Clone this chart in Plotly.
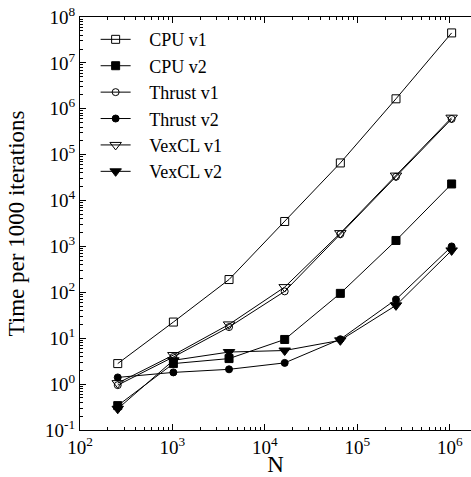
import plotly.graph_objects as go

# Problem sizes and timings (time per 1000 iterations)
n_values = [256, 1024, 4096, 16384, 65536, 262144, 1048576]
cpu_v1 = [2.8, 22.5, 190, 3500, 66000, 1.65e6, 4.5e7]
cpu_v2 = [0.34, 2.8, 3.6, 9.4, 95, 1350, 2.3e4]
thrust_v1 = [0.95, 3.9, 17.5, 105, 1850, 3.3e4, 6.0e5]
thrust_v2 = [1.4, 1.8, 2.1, 2.9, 9.5, 70, 1000]
vexcl_v1 = [1.05, 4.3, 20, 130, 1950, 3.5e4, 6.4e5]
vexcl_v2 = [0.29, 3.3, 5.0, 5.4, 9.0, 52, 820]

x_ticks = [1e2, 1e3, 1e4, 1e5, 1e6]
x_tick_text = ["10<sup>2</sup>", "10<sup>3</sup>", "10<sup>4</sup>", "10<sup>5</sup>", "10<sup>6</sup>"]
y_ticks = [10.0 ** k for k in range(-1, 9)]
y_tick_text = ["10<sup>%d</sup>" % k for k in range(-1, 9)]

# minor ticks at 2..9 of every decade
x_minor = [m * 10.0 ** k for k in range(2, 7) for m in range(2, 10)]
y_minor = [m * 10.0 ** k for k in range(-1, 8) for m in range(2, 10)]

series = [
    ("CPU v1", cpu_v1, "square-open", 8),
    ("CPU v2", cpu_v2, "square", 8),
    ("Thrust v1", thrust_v1, "circle-open", 7),
    ("Thrust v2", thrust_v2, "circle", 7),
    ("VexCL v1", vexcl_v1, "triangle-down-open", 10),
    ("VexCL v2", vexcl_v2, "triangle-down", 10),
]

fig = go.Figure()
for name, values, symbol, size in series:
    fig.add_trace(go.Scatter(
        x=n_values, y=values,
        name="\u00a0\u00a0\u00a0" + name,  # a little extra gap after the legend symbol
        legendgroup=name, mode="lines+markers",
        line=dict(color="black", width=1),
        marker=dict(symbol=symbol, size=size, color="black",
                    line=dict(color="black", width=1)),
    ))

font = dict(family="Liberation Serif, DejaVu Serif, serif", size=19, color="black")
legend_font = dict(family="Liberation Serif, DejaVu Serif, serif", size=18, color="black")

fig.update_layout(
    width=471, height=477,
    margin=dict(l=80, r=0, t=17, b=47),
    paper_bgcolor="white", plot_bgcolor="white",
    font=font,
    showlegend=True,
    legend=dict(x=0.04, y=0.99, xanchor="left", yanchor="top",
                bgcolor="rgba(0,0,0,0)", borderwidth=0,
                font=legend_font, itemwidth=30, tracegroupgap=0),
)
fig.update_xaxes(
    type="log", range=[2, 6.23],
    tickvals=x_ticks, ticktext=x_tick_text,
    ticks="inside", ticklen=6, tickcolor="black",
    minor=dict(tickvals=x_minor, ticks="inside", ticklen=3, tickcolor="black", showgrid=False),
    showline=True, linecolor="black", linewidth=1, mirror="ticks",
    showgrid=False, zeroline=False,
    title=dict(text="N", standoff=2),
)
fig.update_yaxes(
    type="log", range=[-1, 8],
    tickvals=y_ticks, ticktext=y_tick_text,
    ticks="inside", ticklen=6, tickcolor="black",
    minor=dict(tickvals=y_minor, ticks="inside", ticklen=3, tickcolor="black", showgrid=False),
    showline=True, linecolor="black", linewidth=1,
    showgrid=False, zeroline=False,
    title=dict(text="Time per 1000 iterations", standoff=14),
)

fig.write_html("out.html", config={"displayModeBar": False})

# drop the default page margin so the figure sits at the window's corner
with open("out.html") as f:
    html = f.read()
html = html.replace("<body>", '<body style="margin:0;overflow:hidden">', 1)
with open("out.html", "w") as f:
    f.write(html)
